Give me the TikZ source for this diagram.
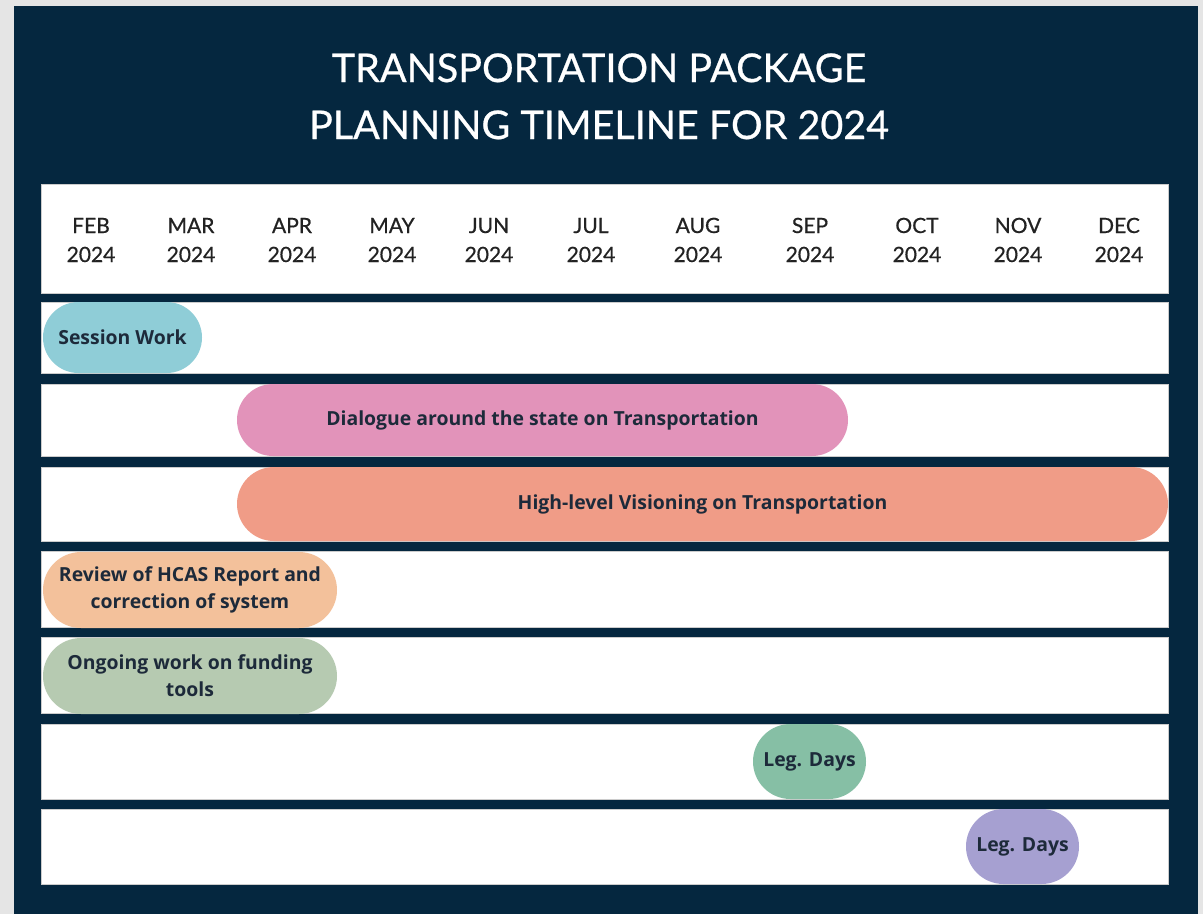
\documentclass[tikz,border=0pt]{standalone}
\usepackage{fontspec}
\setmainfont{Open Sans}
\newfontfamily\headfont[FakeBold=0.6]{Lato}
\usetikzlibrary{shapes.misc}

\definecolor{framegray}{HTML}{E5E5E5}
\definecolor{navy}{HTML}{05273F}
\definecolor{labeltext}{HTML}{1D2A3A}
\definecolor{monthtext}{HTML}{222222}
\definecolor{sessioncol}{HTML}{8FCDD7}
\definecolor{dialoguecol}{HTML}{E293BA}
\definecolor{visioncol}{HTML}{F09C87}
\definecolor{reviewcol}{HTML}{F3C19B}
\definecolor{fundingcol}{HTML}{B6CAB1}
\definecolor{legonecol}{HTML}{86BFA5}
\definecolor{legtwocol}{HTML}{A6A0D1}

\begin{document}
\begin{tikzpicture}[x=1pt,y=-1pt,
		rowbox/.style={fill=white, draw=gray!40, line width=0.8pt},
		bar/.style={rounded rectangle, inner sep=0pt, align=center, text=labeltext,
			font=\bfseries\fontsize{19.4}{27}\selectfont},
		titletext/.style={anchor=base, text=white, font=\headfont\fontsize{39.5}{46}\selectfont},
		monthtext/.style={anchor=base, text=monthtext, font=\headfont\fontsize{21}{25}\selectfont}]
	\useasboundingbox (0,0) rectangle (1203,914);
	\fill[framegray] (0,0) rectangle (1203,914);
	\fill[navy] (14,6) rectangle (1198,914);
	
	% title
	\node[titletext] (title1) at (599,82) {TRANSPORTATION PACKAGE};
	\node[titletext] (title2) at (599,139) {PLANNING TIMELINE FOR 2024};
	
	% month header
	\draw[rowbox] (41,184) rectangle (1168,293);
	\foreach \m/\x in {FEB/91,MAR/191,APR/292,MAY/392,JUN/489,JUL/591,AUG/698,SEP/810,OCT/917,NOV/1018,DEC/1119}{
		\node[monthtext] (\m) at (\x,233) {\m};
		\node[monthtext] (\m-year) at (\x,262) {2024};
	}
	
	% rows
	\foreach \top/\bot in {302/373,384/456,467/541,551/627,637/713,724/799,809/884}
		\draw[rowbox] (41,\top) rectangle (1168,\bot);
	
	% bars
	\node[bar, fill=sessioncol, minimum width=159pt, minimum height=71pt] (session) at (122.5,337.5) {\raisebox{-2pt}{Session Work}};
	\node[bar, fill=dialoguecol, minimum width=611pt, minimum height=72pt] (dialogue) at (542.5,420) {\raisebox{-2pt}{Dialogue around the state on Transportation}};
	\node[bar, fill=visioncol, minimum width=931pt, minimum height=74pt] (vision) at (702.5,504) {\raisebox{-2pt}{High-level Visioning on Transportation}};
	\node[bar, fill=reviewcol, minimum width=294pt, minimum height=76pt] (review) at (190,590) {Review of HCAS Report and\\correction of system};
	\node[bar, fill=fundingcol, minimum width=294pt, minimum height=76pt] (funding) at (190,676) {Ongoing work on funding\\tools};
	\node[bar, fill=legonecol, minimum width=113pt, minimum height=75pt] (legone) at (809.5,761.5) {\raisebox{-2pt}{Leg. Days}};
	\node[bar, fill=legtwocol, minimum width=113pt, minimum height=75pt] (legtwo) at (1022.5,846.5) {\raisebox{-2pt}{Leg. Days}};
\end{tikzpicture}
\end{document}
